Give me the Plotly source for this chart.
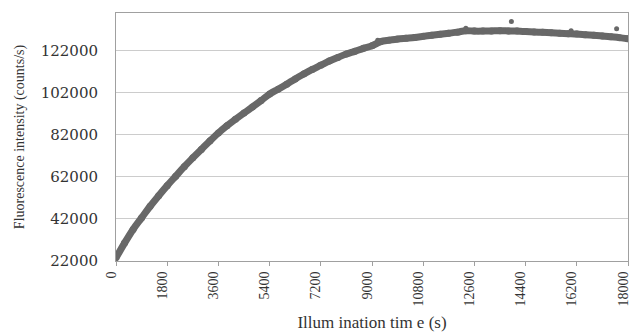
import plotly.graph_objects as go

time_s = [0, 300, 600, 900, 1200, 1500, 1800, 2100, 2400, 2700, 3000, 3300, 3600, 3900,
          4200, 4500, 4800, 5100, 5400, 5700, 6000, 6300, 6600, 6900, 7200, 7500, 7800,
          8100, 8400, 8700, 9000, 9300, 9600, 9900, 10200, 10500, 10800, 11100, 11400,
          11700, 12000, 12300, 12600, 12900, 13200, 13500, 13800, 14100, 14400, 14700,
          15000, 15300, 15600, 15900, 16200, 16500, 16800, 17100, 17400, 17700, 18000]
intensity = [23500, 30500, 37000, 42500, 48000, 53000, 57800, 62300, 66800, 71000, 75000,
             79000, 82800, 86200, 89300, 92300, 95200, 98200, 101300, 103600, 106000,
             108500, 110800, 113000, 115000, 117000, 118700, 120300, 121600, 123000,
             124200, 126200, 126900, 127400, 127800, 128200, 128700, 129200, 129700,
             130200, 130700, 131400, 131200, 131200, 131300, 131400, 131300, 131200,
             131000, 130800, 130600, 130400, 130200, 130000, 129800, 129500, 129200,
             128900, 128500, 128100, 127600]
outlier_t = [9200, 12300, 13900, 16000, 17600]
outlier_v = [126900, 132600, 135800, 131400, 132300]

y_ticks = [22000, 42000, 62000, 82000, 102000, 122000]
x_ticks = [0, 1800, 3600, 5400, 7200, 9000, 10800, 12600, 14400, 16200, 18000]

grey = "#686868"
txt = "#333333"
fig = go.Figure()
fig.add_trace(go.Scatter(x=time_s, y=intensity, mode="lines+markers",
                         line=dict(color=grey, width=7, shape="spline"),
                         marker=dict(color=grey, size=7), showlegend=False))
fig.add_trace(go.Scatter(x=outlier_t, y=outlier_v, mode="markers",
                         marker=dict(color=grey, size=5), showlegend=False))

serif = "Liberation Serif"
fig.update_layout(
    width=631, height=336,
    margin=dict(l=116, r=3, t=13, b=75, autoexpand=False),
    paper_bgcolor="white", plot_bgcolor="white",
    font=dict(family=serif, color=txt),
    xaxis=dict(range=[0, 18000], tickvals=x_ticks, ticktext=[str(v) for v in x_ticks],
               tickangle=-90, tickfont=dict(size=14, family=serif, color=txt),
               ticklabeloverflow="allow", automargin=False, ticklabelshift=-5,
               showgrid=False, zeroline=False, showline=True, linecolor="#a0a0a0",
               linewidth=1, mirror=True, ticks="outside", ticklen=4, tickcolor="#a0a0a0",
               title=dict(text="Illum ination tim e (s)",
                          font=dict(size=17, family=serif, color=txt), standoff=10)),
    yaxis=dict(range=[22000, 139800], tickvals=y_ticks, ticktext=[str(v) for v in y_ticks],
               tickfont=dict(size=15, family="DejaVu Serif", color=txt),
               ticklabelstandoff=14, automargin=False,
               showgrid=True, gridcolor="#cccccc", gridwidth=1, zeroline=False,
               showline=True, linecolor="#a0a0a0", linewidth=1, mirror=True,
               ticks="", title=dict(text="Fluorescence intensity (counts/s)",
                                    font=dict(size=14, family=serif, color=txt), standoff=12)),
)
fig.write_html("out.html")
